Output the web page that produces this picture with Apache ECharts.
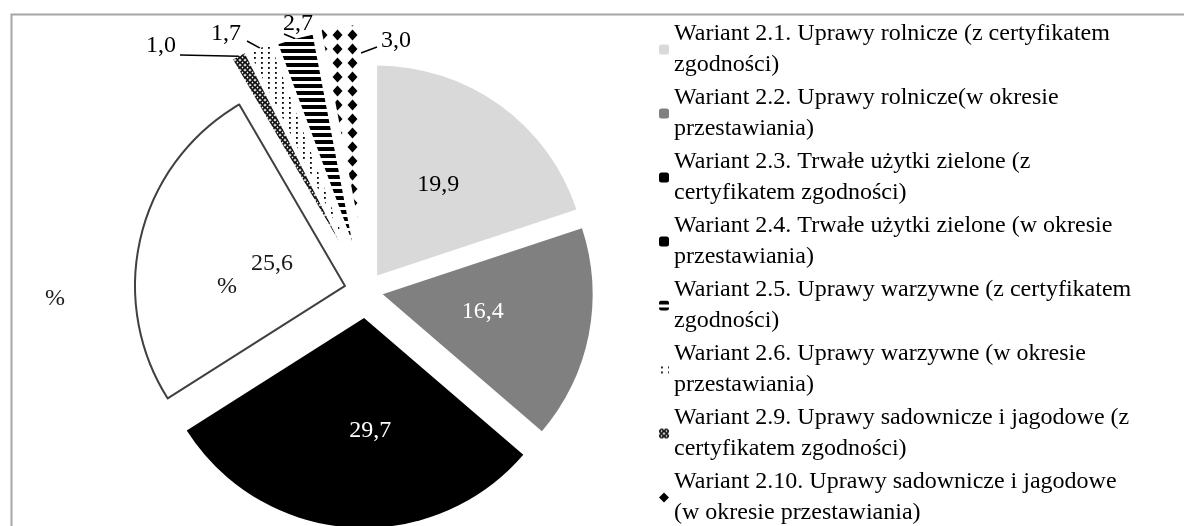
<!DOCTYPE html>
<html>
<head>
<meta charset="utf-8">
<script src="https://cdn.jsdelivr.net/npm/echarts@6/dist/echarts.min.js"></script>
<style>
html, body { margin: 0; padding: 0; background: #fff; }
#main { width: 1184px; height: 526px; }
</style>
</head>
<body>
<div id="main"></div>
<script>
// dane (udział w %)
var categories = [
    'Wariant 2.1. Uprawy rolnicze (z certyfikatem\nzgodności)',
    'Wariant 2.2. Uprawy rolnicze(w okresie\nprzestawiania)',
    'Wariant 2.3. Trwałe użytki zielone (z\ncertyfikatem zgodności)',
    'Wariant 2.4. Trwałe użytki zielone (w okresie\nprzestawiania)',
    'Wariant 2.5. Uprawy warzywne (z certyfikatem\nzgodności)',
    'Wariant 2.6. Uprawy warzywne (w okresie\nprzestawiania)',
    'Wariant 2.9. Uprawy sadownicze i jagodowe (z\ncertyfikatem zgodności)',
    'Wariant 2.10. Uprawy sadownicze i jagodowe\n(w okresie przestawiania)'
];
var values = [19.9, 16.4, 29.7, 25.6, 1.0, 1.7, 2.7, 3.0];
var unitLabel = '%';

var FONT = '"Liberation Serif", "Times New Roman", serif';
var CENTER = [366, 291];
var RADIUS = 210;
// how far each slice is pulled out of the pie (px)
var explode = [19, 17, 27, 21.6, 57, 55, 52, 56];
// small nudges of the inside labels [dx, dy]
var labelNudge = [[-2, -3], [-6, -3], [14, 5], [32, 3]];

function makePattern(w, h, draw) {
    var c = document.createElement('canvas');
    c.width = w;
    c.height = h;
    var ctx = c.getContext('2d');
    ctx.fillStyle = '#fff';
    ctx.fillRect(0, 0, w, h);
    ctx.fillStyle = '#000';
    ctx.strokeStyle = '#000';
    draw(ctx);
    return { image: c, repeat: 'repeat' };
}

var beads = makePattern(5, 5, function (ctx) {
    ctx.lineWidth = 1.6;
    ctx.beginPath();
    ctx.arc(2.5, 2.5, 1.7, 0, Math.PI * 2);
    ctx.stroke();
});
var dots = makePattern(7, 5, function (ctx) {
    ctx.fillRect(2, 2, 1.8, 1.8);
});
var stripes = makePattern(8, 7, function (ctx) {
    ctx.fillRect(0, 0, 8, 4);
});
var diamonds = makePattern(15, 14, function (ctx) {
    ctx.beginPath();
    ctx.moveTo(7.5, 1.5);
    ctx.lineTo(12.5, 7);
    ctx.lineTo(7.5, 12.5);
    ctx.lineTo(2.5, 7);
    ctx.closePath();
    ctx.fill();
});

var sliceStyles = [
    { color: '#d9d9d9' },
    { color: '#808080' },
    { color: '#000000' },
    { color: '#ffffff', borderColor: '#404040', borderWidth: 2 },
    { color: beads },
    { color: dots },
    { color: stripes },
    { color: diamonds }
];
var labelColors = ['#000', '#fff', '#fff', '#1a1a1a', '#000', '#000', '#000', '#000'];

var legendIcons = [
    { itemStyle: { color: '#d9d9d9' } },
    { itemStyle: { color: '#808080' } },
    { itemStyle: { color: '#000' } },
    { itemStyle: { color: '#000' } },
    { itemStyle: { color: stripes } },
    { itemStyle: { color: dots } },
    { itemStyle: { color: beads } },
    { icon: 'diamond', itemStyle: { color: '#000' } }
];

// placement of the outside labels of the thin slices and the end of their leader lines
var outerLabels = {
    4: { x: 176, y: 46, align: 'right', end: [180, 55] },
    5: { x: 241, y: 34, align: 'right', end: [247, 41] },
    6: { x: 298, y: 24, align: 'center', end: [284, 34] },
    7: { x: 381, y: 41, align: 'left', end: [377, 47], start: [361, 53] }
};

function fmt(v) {
    return v.toFixed(1).replace('.', ',');
}

var total = values.reduce(function (a, b) { return a + b; }, 0);

// one pie per slice: same angles for all, only slice i is painted, centre pushed out along its mid-angle
function sliceSeries(i) {
    var before = 0;
    for (var k = 0; k < i; k++) before += values[k];
    var mid = (before + values[i] / 2) / total * Math.PI * 2;
    var center = [CENTER[0] + explode[i] * Math.sin(mid), CENTER[1] - explode[i] * Math.cos(mid)];
    var small = values[i] < 5;

    var data = categories.map(function (name, j) {
        var own = j === i;
        var item = {
            name: name,
            value: values[j],
            itemStyle: own ? sliceStyles[j] : { color: 'rgba(0,0,0,0)', borderWidth: 0 },
            label: { show: own, color: labelColors[j] },
            labelLine: { show: own && small }
        };
        if (own && labelNudge[j]) {
            var dx = labelNudge[j][0], dy = labelNudge[j][1];
            item.label.formatter = '{p|' + fmt(values[j]) + '}';
            item.label.rich = {
                p: {
                    padding: [Math.max(0, 2 * dy), Math.max(0, -2 * dx), Math.max(0, -2 * dy), Math.max(0, 2 * dx)],
                    fontSize: 24,
                    fontFamily: FONT,
                    color: labelColors[j]
                }
            };
        }
        return item;
    });

    var s = {
        type: 'pie',
        center: center,
        radius: RADIUS,
        startAngle: 90,
        clockwise: true,
        avoidLabelOverlap: false,
        emphasis: { disabled: true },
        label: {
            position: small ? 'outside' : 'inside',
            fontFamily: FONT,
            fontSize: 24,
            formatter: function (p) { return fmt(p.value); }
        },
        labelLine: {
            length: 8,
            length2: 20,
            lineStyle: { color: '#000', width: 1.5 }
        },
        data: data
    };
    if (small) {
        s.labelLayout = function (params) {
            var o = outerLabels[params.dataIndex];
            if (!o || params.dataIndex !== i) {
                return {};
            }
            var start = o.start || (params.labelLinePoints ? params.labelLinePoints[0] : o.end);
            return {
                x: o.x,
                y: o.y,
                align: o.align,
                verticalAlign: 'middle',
                labelLinePoints: [start, o.end, o.end]
            };
        };
    }
    return s;
}

var myChart = echarts.init(document.getElementById('main'));
myChart.setOption({
    animation: false,
    legend: {
        orient: 'vertical',
        left: 659,
        top: 3,
        height: 800,
        padding: 0,
        itemWidth: 10,
        itemHeight: 10,
        itemGap: -29,
        selectedMode: false,
        textStyle: {
            fontFamily: FONT,
            fontSize: 24,
            lineHeight: 31,
            color: '#000',
            padding: [31, 0, 0, 0]
        },
        data: categories.map(function (name, i) {
            return Object.assign({ name: name }, legendIcons[i]);
        })
    },
    graphic: [
        {
            type: 'rect',
            left: 9, top: 12,
            shape: { width: 1200, height: 600 },
            style: { fill: 'none', stroke: '#a6a6a6', lineWidth: 2 },
            silent: true
        },
        {
            type: 'text', left: 45, top: 287, z: 10,
            style: { text: unitLabel, font: '24px ' + FONT, fill: '#1a1a1a' }
        },
        {
            type: 'text', left: 217, top: 275, z: 10,
            style: { text: unitLabel, font: '24px ' + FONT, fill: '#1a1a1a' }
        }
    ],
    series: categories.map(function (name, i) { return sliceSeries(i); })
});
</script>
</body>
</html>
